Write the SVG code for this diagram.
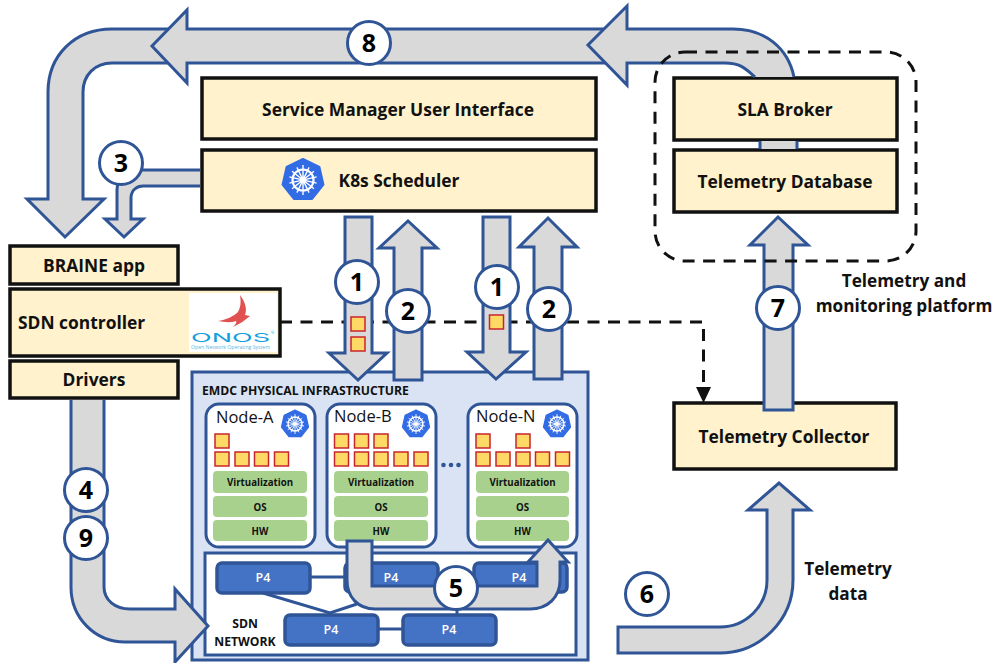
<svg xmlns="http://www.w3.org/2000/svg" width="996" height="663" viewBox="0 0 996 663">
<style>
text{font-family:"Open Sans","Liberation Sans",sans-serif;fill:#111}
.box{fill:#fff2cc;stroke:#111;stroke-width:3.5}
.t{font-size:17.400px;font-weight:700;text-anchor:middle}
.ar{fill:#d9d9d9;stroke:#2f5597;stroke-width:3;stroke-linejoin:miter}
.ln{fill:none;stroke:#2f5597;stroke-width:3}
.dash{fill:none;stroke:#111;stroke-width:3;stroke-dasharray:12 8.500}
.cnt{fill:#ffd966;stroke:#c9242b;stroke-width:1.500}
.nd{fill:#fff;stroke:#2f5597;stroke-width:3}
.gr{fill:#a9d18e}
.gt{font-size:9.700px;font-weight:700;text-anchor:middle}
.p4{fill:#4472c4;stroke:#2f5597;stroke-width:3.500}
.p4t{font-size:12.500px;font-weight:600;text-anchor:middle;fill:#fff}
.nm{font-size:16.500px}
.c{fill:#fff;stroke:#2f5597;stroke-width:3}
.n{font-size:25px;font-weight:700;text-anchor:middle;fill:#000}
.lb{font-size:12.200px;font-weight:700;text-anchor:middle}
</style>
<defs>
<g id="k8s">
<path d="M0-21 16.420-13.090 20.470 4.670 9.110 18.920-9.110 18.920-20.470 4.670-16.420-13.090Z" fill="#326ce5" stroke="#326ce5" stroke-width="2" stroke-linejoin="round"/>
<circle r="10.500" fill="none" stroke="#fff" stroke-width="2.200"/>
<path d="M0-15V15M10.950-8.730-10.950 8.730M13.650 3.120-13.650-3.120M6.070 12.610-6.070-12.610M-10.950-8.730 10.950 8.730M-13.650 3.120 13.650-3.120M-6.070 12.610 6.070-12.610" stroke="#fff" stroke-width="1.400" fill="none"/>
<circle r="2.600" fill="#fff"/>
</g>
<rect id="sq" width="14" height="14"/>
</defs>
<rect width="996" height="663" fill="#fff"/>

<g id="service-manager"><rect class="box" x="202" y="78" width="394" height="61"/><text class="t" x="398" y="116">Service Manager User Interface</text></g>
<g id="k8s-scheduler"><rect class="box" x="202" y="150" width="394" height="61"/><use href="#k8s" transform="translate(303 180)"/><text class="t" x="399" y="187">K8s Scheduler</text></g>
<g id="sla-broker"><rect class="box" x="674" y="78" width="223" height="62"/><text class="t" x="785" y="116">SLA Broker</text></g>
<g id="telemetry-database"><rect class="box" x="674" y="150" width="223" height="62"/><text class="t" x="785" y="188">Telemetry Database</text></g>
<g id="telemetry-collector"><rect class="box" x="674" y="403" width="222" height="66"/><text class="t" x="784" y="443">Telemetry Collector</text></g>
<g id="braine-app"><rect class="box" x="10" y="246" width="168" height="38"/><text class="t" x="94" y="272">BRAINE app</text></g>
<g id="sdn-controller"><rect class="box" x="10" y="289" width="270" height="67"/><text class="t" x="18" y="329" style="text-anchor:start">SDN controller</text>
<rect x="189" y="293" width="88" height="59" fill="#fff"/>
<path d="M240 295C246 303 247 310 245 315L250 316C245 320 240 324 233 327 236 324 237 322 236 321 230 323 224 322 218 321 226 320 234 316 238 312 241 307 241 301 240 295Z" fill="#e0514f"/>
<text x="191" y="342" textLength="79" lengthAdjust="spacingAndGlyphs" style="font-size:12px;fill:#14a0dc;font-family:Inter,sans-serif">ONOS</text>
<text x="271" y="334" style="font-size:4px;fill:#14a0dc">®</text>
<text x="191" y="349" textLength="79" lengthAdjust="spacingAndGlyphs" style="font-size:5px;fill:#5bb5dc">Open Network Operating System</text></g>
<g id="drivers"><rect class="box" x="10" y="361" width="168" height="37"/><text class="t" x="94" y="386">Drivers</text></g>

<g id="emdc-infrastructure"><rect x="192" y="372" width="396" height="288" fill="#dae3f3" stroke="#2f5597" stroke-width="3"/><text x="202" y="395" style="font-size:12.200px;font-weight:700">EMDC PHYSICAL INFRASTRUCTURE</text>
<circle cx="443.500" cy="465" r="2.300" fill="#2f5597"/><circle cx="451" cy="465" r="2.300" fill="#2f5597"/><circle cx="458.500" cy="465" r="2.300" fill="#2f5597"/></g>

<g id="node-a"><rect class="nd" x="206" y="404" width="109" height="143" rx="13"/><text class="nm" x="216" y="423">Node-A</text><use href="#k8s" transform="translate(295 424) scale(.66)"/>
<g class="cnt"><use href="#sq" x="215" y="434"/><use href="#sq" x="215" y="452"/><use href="#sq" x="235" y="452"/><use href="#sq" x="254.500" y="452"/><use href="#sq" x="274.500" y="452"/></g>
<rect class="gr" x="213" y="471" width="94" height="22" rx="4"/><rect class="gr" x="213" y="496" width="94" height="21" rx="4"/><rect class="gr" x="213" y="520" width="94" height="21" rx="4"/>
<text class="gt" x="260" y="486">Virtualization</text><text class="gt" x="260" y="511">OS</text><text class="gt" x="260" y="535">HW</text></g>
<g id="node-b"><rect class="nd" x="327" y="404" width="109" height="143" rx="13"/><text class="nm" x="334" y="422">Node-B</text><use href="#k8s" transform="translate(416 424) scale(.66)"/>
<g class="cnt"><use href="#sq" x="334.500" y="434"/><use href="#sq" x="354.500" y="434"/><use href="#sq" x="374" y="434"/><use href="#sq" x="334.500" y="452"/><use href="#sq" x="354.500" y="452"/><use href="#sq" x="374" y="452"/><use href="#sq" x="394" y="452"/><use href="#sq" x="414" y="452"/></g>
<rect class="gr" x="334" y="471" width="94" height="22" rx="4"/><rect class="gr" x="334" y="496" width="94" height="21" rx="4"/><rect class="gr" x="334" y="520" width="94" height="21" rx="4"/>
<text class="gt" x="381" y="486">Virtualization</text><text class="gt" x="381" y="511">OS</text><text class="gt" x="381" y="535">HW</text></g>
<g id="node-n"><rect class="nd" x="468" y="404" width="109" height="143" rx="13"/><text class="nm" x="476" y="422">Node-N</text><use href="#k8s" transform="translate(557 424) scale(.66)"/>
<g class="cnt"><use href="#sq" x="476" y="434"/><use href="#sq" x="516" y="434"/><use href="#sq" x="476" y="452"/><use href="#sq" x="496" y="452"/><use href="#sq" x="516" y="452"/><use href="#sq" x="535.500" y="452"/><use href="#sq" x="555.500" y="452"/></g>
<rect class="gr" x="476" y="471" width="93" height="22" rx="4"/><rect class="gr" x="476" y="496" width="93" height="21" rx="4"/><rect class="gr" x="476" y="520" width="93" height="21" rx="4"/>
<text class="gt" x="522.500" y="486">Virtualization</text><text class="gt" x="522.500" y="511">OS</text><text class="gt" x="522.500" y="535">HW</text></g>

<g id="sdn-network"><rect x="205" y="553" width="371" height="102" fill="#fff" stroke="#2f5597" stroke-width="3"/>
<text class="lb" x="245" y="628">SDN</text><text class="lb" x="245" y="646">NETWORK</text>
<path class="ln" d="M310 577H344M263 593 330 613 357 604M378 629H402M457 605V614"/></g>
<g id="p4-a"><rect class="p4" x="217" y="563" width="93" height="30" rx="5"/><text class="p4t" x="263" y="582">P4</text></g>
<g id="p4-b"><rect class="p4" x="345" y="563" width="93" height="29" rx="5"/><text class="p4t" x="391" y="582">P4</text></g>
<g id="p4-c"><rect class="p4" x="474" y="563" width="93" height="29" rx="5"/><text class="p4t" x="519" y="582">P4</text></g>
<g id="p4-d"><rect class="p4" x="285" y="615" width="93" height="30" rx="5"/><text class="p4t" x="331" y="634">P4</text></g>
<g id="p4-e"><rect class="p4" x="403" y="615" width="93" height="30" rx="5"/><text class="p4t" x="449" y="634">P4</text></g>

<g id="connectors">
<path class="dash" d="M280 322H703.500V388"/>
<path d="M696 387H711L703.500 403Z" fill="#111"/>
<path class="ar" d="M170 63H112C95 63 83 75 83 92V199H104L65 237 27 199H48V92C48 55 75 29 112 29H170"/>
<path class="ar" d="M606 63H187V83L152 46 187 10V29H606"/>
<path class="ar" d="M755 77C745 68 740 63 725 63H627V85L588 45 627 6V29H733C765 29 788 48 794 77"/>
<rect x="760" y="141" width="37" height="8" fill="#d9d9d9"/><path class="ln" d="M760 141V149M797 141V149"/>
<path class="ar" d="M200 170H142C130 170 117 176 117 190V219H105L124 237 143 219H131V198C131 190 137 186 143 186H200"/>
<path class="ar" d="M345 217H372V353H387L358 380 329 353H345Z"/>
<path class="ar" d="M394 380H422V248H437L408 221 379 248H394Z"/>
<path class="ar" d="M483 217H510V352H526L496 379 467 352H483Z"/>
<path class="ar" d="M534 379H562V247H577L548 218 519 247H534Z"/>
<path class="ar" d="M71 400V587C71 618 95 642 125 642H175V662L208 626 175 589V609H130C115 609 104 600 104 587V400"/>
<path class="ar" d="M347 541H372V586H537V562H528L548 540 568 562H560V580C560 597 548 609 530 609H375C358 609 347 597 347 580Z"/>
<path class="ar" d="M618 627H720C746 627 767 606 767 580V510H748L779 483 810 510H793V580C793 620 760 653 720 653H618Z"/>
<path class="ar" d="M764 410H793V245H808L778 217 750 245H764Z"/>
<rect class="dash" x="655" y="52" width="261" height="209" rx="30"/>
</g>

<g class="cnt" id="transit-containers"><use href="#sq" x="351" y="317"/><use href="#sq" x="351" y="337"/><use href="#sq" x="489.500" y="315"/></g>

<g id="step-8"><circle class="c" cx="369" cy="43" r="21.500"/><text class="n" x="369" y="52">8</text></g>
<g id="step-3"><circle class="c" cx="121" cy="163" r="21.500"/><text class="n" x="121" y="172">3</text></g>
<g id="step-1a"><circle class="c" cx="357" cy="282" r="21.500"/><text class="n" x="357" y="291">1</text></g>
<g id="step-2a"><circle class="c" cx="408" cy="311" r="21.500"/><text class="n" x="408" y="320">2</text></g>
<g id="step-1b"><circle class="c" cx="497" cy="287" r="21.500"/><text class="n" x="497" y="296">1</text></g>
<g id="step-2b"><circle class="c" cx="549" cy="309" r="21.500"/><text class="n" x="549" y="318">2</text></g>
<g id="step-4"><circle class="c" cx="86" cy="490" r="21.500"/><text class="n" x="86" y="499">4</text></g>
<g id="step-9"><circle class="c" cx="86" cy="538" r="21.500"/><text class="n" x="86" y="547">9</text></g>
<g id="step-5"><circle class="c" cx="456" cy="588" r="21.500"/><text class="n" x="456" y="597">5</text></g>
<g id="step-6"><circle class="c" cx="647" cy="594" r="21.500"/><text class="n" x="647" y="603">6</text></g>
<g id="step-7"><circle class="c" cx="778" cy="308" r="21.500"/><text class="n" x="778" y="317">7</text></g>

<g id="labels">
<text class="t" x="904" y="287" style="font-size:17.200px">Telemetry and</text>
<text class="t" x="904" y="312" style="font-size:17.200px">monitoring platform</text>
<text class="t" x="848" y="575" style="font-size:17.200px">Telemetry</text>
<text class="t" x="848" y="600" style="font-size:17.200px">data</text>
</g>
</svg>
